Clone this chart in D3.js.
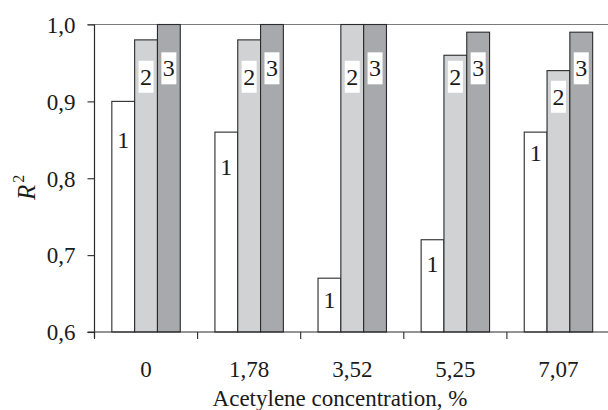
<!DOCTYPE html>
<html>
<head>
<meta charset="utf-8">
<script src="https://cdn.jsdelivr.net/npm/d3@7"></script>
<style>
  html, body { margin: 0; padding: 0; background: #fff; }
  svg { display: block; }
</style>
</head>
<body>
<svg id="chart" width="608" height="410"></svg>
<script>
// ---- data ----
const categories = ["0", "1,78", "3,52", "5,25", "7,07"];
const seriesNames = ["1", "2", "3"];
const series1 = [0.90, 0.86, 0.67, 0.72, 0.86];
const series2 = [0.98, 0.98, 1.00, 0.96, 0.94];
const series3 = [1.00, 1.00, 1.00, 0.99, 0.99];
// label anchor positions (in R² units)
const label1 = [0.85, 0.814, 0.642, 0.688, 0.833];
const label2 = [0.932, 0.932, 0.932, 0.932, 0.906];
const label3 = [0.943, 0.943, 0.943, 0.943, 0.943];
const yTicks = [0.6, 0.7, 0.8, 0.9, 1.0];
const yTickLabels = ["0,6", "0,7", "0,8", "0,9", "1,0"];
const xTitle = "Acetylene concentration, %";

(function () {
const FONT = "'Liberation Serif', 'Times New Roman', serif";
const TXT = "#1a1a1a";
const values = [series1, series2, series3];
const labels = [label1, label2, label3];
const fills = ["#ffffff", "#d1d2d4", "#a8a9ad"];

const svg = d3.select("#chart");
const mLeft = 94.5, mRight = 610, mTop = 24.5, mBottom = 332;

const x0 = d3.scaleBand().domain(categories).range([mLeft, mRight]).paddingInner(0).paddingOuter(0);
const x1 = d3.scaleBand().domain(seriesNames).range([0, x0.bandwidth()]).paddingInner(0).paddingOuter(0.76);
const y = d3.scaleLinear().domain([0.6, 1.0]).range([mBottom, mTop]);

// top frame line at 1.0
svg.append("line")
  .attr("x1", mLeft - 7).attr("x2", 608)
  .attr("y1", y(1.0)).attr("y2", y(1.0))
  .attr("stroke", "#7a7a7a").attr("stroke-width", 1.2);

// bars
const cells = [];
categories.forEach((c, i) => {
  seriesNames.forEach((s, j) => {
    cells.push({ c, s, j, v: values[j][i], lv: labels[j][i] });
  });
});

svg.append("g").selectAll("rect").data(cells).join("rect")
  .attr("x", d => x0(d.c) + x1(d.s))
  .attr("width", x1.bandwidth())
  .attr("y", d => y(d.v))
  .attr("height", d => mBottom - y(d.v))
  .attr("fill", d => fills[d.j])
  .attr("stroke", "#2a2a2a").attr("stroke-width", 1.1);

// labels with white boxes
const lg = svg.append("g");
cells.forEach(d => {
  const cx = x0(d.c) + x1(d.s) + x1.bandwidth() / 2;
  const cy = y(d.lv);
  lg.append("rect")
    .attr("x", cx - 7.5).attr("y", cy - 16)
    .attr("width", 15).attr("height", 32)
    .attr("fill", "#ffffff");
  lg.append("text")
    .attr("x", cx).attr("y", cy + 8)
    .attr("text-anchor", "middle")
    .style("font-family", FONT).style("font-size", "24px").style("fill", TXT)
    .text(d.s);
});

// y axis
const yAxis = d3.axisLeft(y).tickValues(yTicks).tickFormat((d, i) => yTickLabels[i]).tickSize(7).tickSizeOuter(0);
const gy = svg.append("g").attr("transform", `translate(${mLeft},0)`).call(yAxis);
gy.select(".domain").remove();
gy.selectAll(".tick line").attr("stroke", "#2a2a2a").attr("stroke-width", 1.1);
gy.selectAll(".tick text").attr("x", -19).attr("dy", "0.34em")
  .style("font-family", FONT).style("font-size", "23px").style("fill", TXT);
svg.append("line").attr("x1", mLeft).attr("x2", mLeft).attr("y1", mTop).attr("y2", mBottom + 6)
  .attr("stroke", "#2a2a2a").attr("stroke-width", 1.2);

// x axis: ticks at band boundaries
const xAxisLine = svg.append("g");
xAxisLine.append("line").attr("x1", mLeft - 7).attr("x2", 608).attr("y1", mBottom).attr("y2", mBottom)
  .attr("stroke", "#2a2a2a").attr("stroke-width", 1.2);
categories.forEach((c) => {
  const bx = x0(c);
  xAxisLine.append("line").attr("x1", bx).attr("x2", bx).attr("y1", mBottom).attr("y2", mBottom + 7)
    .attr("stroke", "#2a2a2a").attr("stroke-width", 1.1);
});
const xAxis = d3.axisBottom(x0).tickSize(0).tickPadding(0);
const gx = svg.append("g").attr("transform", `translate(0,${mBottom})`).call(xAxis);
gx.select(".domain").remove();
gx.selectAll(".tick text").attr("y", 45).attr("dy", 0)
  .style("font-family", FONT).style("font-size", "23px").style("fill", TXT);

// x title
svg.append("text").attr("x", 340).attr("y", 406).attr("text-anchor", "middle")
  .style("font-family", FONT).style("font-size", "23px").style("fill", TXT)
  .text(xTitle);

// y title R^2
const yt = svg.append("text").attr("transform", "translate(35,200) rotate(-90)")
  .attr("text-anchor", "start")
  .style("font-family", FONT).style("font-size", "25px").style("fill", TXT);
yt.append("tspan").style("font-style", "italic").text("R");
yt.append("tspan").style("font-size", "16px").attr("dx", 2).attr("dy", -11).text("2");
})();
</script>
</body>
</html>
